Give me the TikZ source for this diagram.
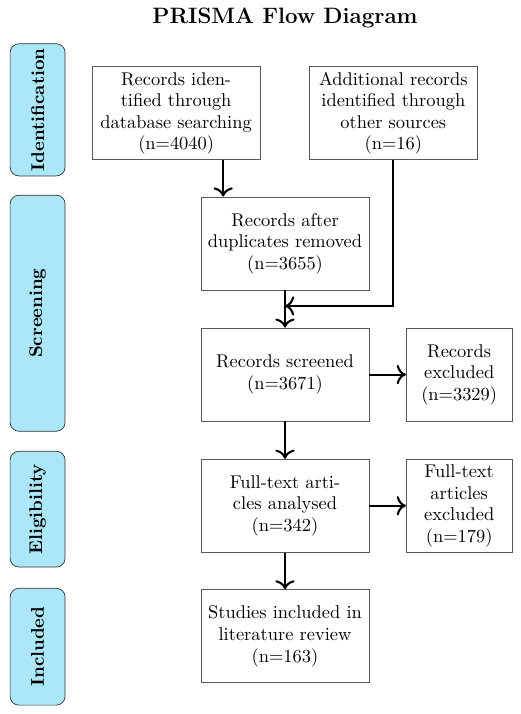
\documentclass[tikz,border=0pt]{standalone}
\usetikzlibrary{calc,arrows.meta}
\definecolor{phasecol}{RGB}{171,231,248}
\newcommand{\boxfont}{\fontsize{10.6}{12.4}\selectfont}
\tikzset{
  phase/.style={draw=black!80, fill=phasecol, rounded corners=5pt, rotate=90,
    minimum height=1.11cm, font=\boxfont\bfseries, inner sep=2pt},
  stagebox/.style={draw=black!65, fill=white, minimum width=3.4cm, minimum height=1.88cm,
    align=center, inner sep=2pt, font=\boxfont},
  sidebox/.style={draw=black!65, fill=white, minimum width=2.14cm, minimum height=1.88cm,
    align=center, inner sep=2pt, font=\boxfont},
  flow/.style={-{To[scale=1.25]}, very thick, black}
}
\begin{document}
\begin{tikzpicture}
  \useasboundingbox (0,0) rectangle (10.51,-14.43);
  % Title
  \node[font=\fontsize{12.8}{15}\selectfont\bfseries] (title) at (5.76,-0.36) {PRISMA Flow Diagram};
  % Phases
  \node[phase, minimum width=2.67cm] (ident) at (0.76,-2.22) {Identification};
  \node[phase, minimum width=4.77cm] (screen) at (0.76,-6.33) {Screening};
  \node[phase, minimum width=2.34cm] (elig) at (0.76,-10.29) {Eligibility};
  \node[phase, minimum width=2.36cm] (incl) at (0.76,-13.07) {Included};
  % Boxes
  \node[stagebox] (db) at (3.56,-2.29) {Records iden-\\tified through\\database searching\\(n=4040)};
  \node[stagebox] (other) at (7.95,-2.29) {Additional records\\identified through\\other sources\\(n=16)};
  \node[stagebox] (dup) at (5.76,-4.92) {Records after\\duplicates removed\\(n=3655)};
  \node[stagebox] (scr) at (5.76,-7.57) {Records screened\\(n=3671)};
  \node[sidebox] (scrx) at (9.28,-7.57) {Records\\excluded\\(n=3329)};
  \node[stagebox] (full) at (5.76,-10.22) {Full-text arti-\\cles analysed\\(n=342)};
  \node[sidebox] (fullx) at (9.28,-10.22) {Full-text\\articles\\excluded\\(n=179)};
  \node[stagebox] (inc) at (5.76,-12.86) {Studies included in\\literature review\\(n=163)};
  % Arrows
  \draw[flow] ([xshift=0.95cm]db.south) -- ([xshift=0.95cm]db.south |- dup.north);
  \draw[flow] (other.south) |- ($(dup.south)!0.42!(scr.north)$);
  \draw[flow] (dup) -- (scr);
  \draw[flow] (scr) -- (scrx);
  \draw[flow] (scr) -- (full);
  \draw[flow] (full) -- (fullx);
  \draw[flow] (full) -- (inc);
\end{tikzpicture}
\end{document}
